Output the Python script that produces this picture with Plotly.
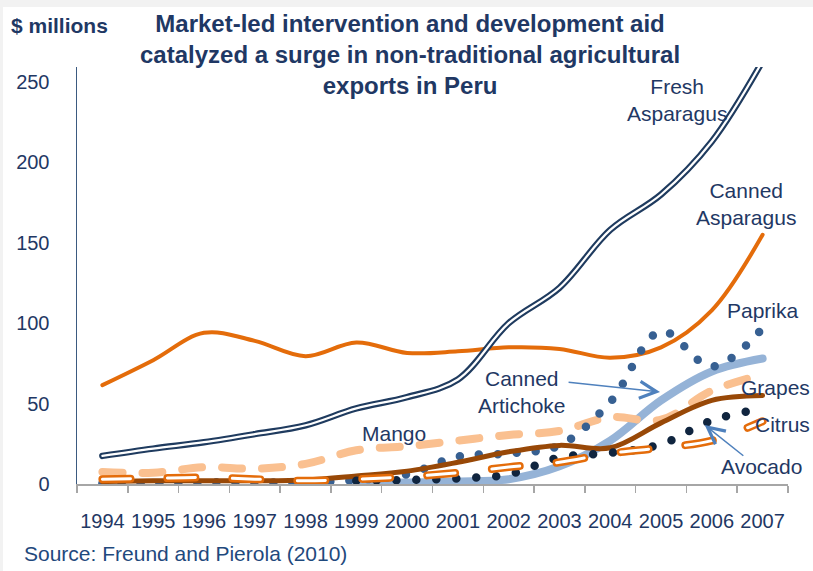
import plotly.graph_objects as go

years = [1994, 1995, 1996, 1997, 1998, 1999, 2000, 2001, 2002, 2003, 2004, 2005, 2006, 2007]
year_labels = [str(y) for y in years]
boundaries = [y - 0.5 for y in years] + [years[-1] + 0.5]
y_ticks = [0, 50, 100, 150, 200, 250]

fresh_asparagus = [17.5, 22, 26, 31, 36.5, 47, 54, 65, 100, 122, 158, 180, 213, 263]
canned_asparagus = [61.5, 77, 94, 89, 79.5, 88, 81.5, 82.5, 85, 84, 78.5, 85, 108, 155]
paprika = [0.5, 0.5, 1, 1, 1, 2.5, 6, 17, 19, 24, 51, 95, 73, 97]
canned_artichoke = [None, None, None, None, None, 0.5, 1, 1.5, 3, 11, 27, 52, 70, 78]
mango = [7.5, 7, 10.5, 9.5, 12.5, 21, 23.5, 27, 30.5, 33, 41.5, 40, 58, 68]
grapes = [1.5, 2, 2, 2, 2.5, 5, 8, 13.5, 20, 24, 22.5, 38, 52, 55]
avocado = [None, None, None, None, None, 2, 2.5, 3.5, 6, 16.5, 19.3, 24.7, 39.5, 47]
citrus = [3, 3.5, 4, 3, 2, 3, 4.5, 7, 10.5, 13.5, 19, 22.5, 27, 39]

NAVY = "#1F3B5F"
TXT = "#1F3864"
ORANGE = "#E46C0A"

fig = go.Figure()

def add(vals, color, width, dash="solid"):
    fig.add_trace(go.Scatter(
        x=years, y=vals, mode="lines",
        line=dict(color=color, width=width, dash=dash, shape="spline", smoothing=1.0),
        hoverinfo="skip", connectgaps=False))

add(canned_artichoke, "#95B3D7", 8)
add(mango, "#FAC090", 8, "20px,20px")
add(canned_asparagus, ORANGE, 4)
add(fresh_asparagus, NAVY, 6.5)
add(fresh_asparagus, "white", 2.2)
add(paprika, "#376092", 8.5, "0px,19px")
add(grapes, "#984807", 5)
add(avocado, "#10253F", 8.5, "0px,20px")
add(citrus, ORANGE, 8, "28px,37px")
add(citrus, "white", 3, "28px,37px")

lab_font = dict(family="Liberation Sans, Arial", size=21, color=TXT)
labels = [
    ("Fresh<br>Asparagus", 2005.31, 238.8),
    ("Canned<br>Asparagus", 2006.68, 174.4),
    ("Paprika", 2007.01, 108.2),
    ("Grapes", 2007.26, 59.7),
    ("Citrus", 2007.39, 36.7),
    ("Avocado", 2006.97, 10.8),
    ("Canned<br>Artichoke", 2002.26, 57.5),
    ("Mango", 1999.74, 31.7),
]
for t, x, y in labels:
    fig.add_annotation(x=x, y=y, xref="x", yref="y", text=t, showarrow=False,
                       font=lab_font, align="center", xanchor="center", yanchor="middle")

ARROW = "#4F81BD"
arrows = [
    (2004.98, 57.2, 2003.15, 63.4),
    (2005.86, 36.7, 2006.65, 16.8),
]
for hx, hy, tx, ty in arrows:
    fig.add_annotation(x=hx, y=hy, ax=tx, ay=ty, xref="x", yref="y", axref="x", ayref="y",
                       text="", showarrow=True, arrowhead=5, arrowsize=2.2, arrowwidth=1.5,
                       arrowcolor=ARROW, standoff=0, startstandoff=0)

fig.add_annotation(x=0.4684, y=1.0288, xref="paper", yref="paper",
                   text="<b>Market-led intervention and development aid<br>catalyzed a surge in non-traditional agricultural<br>exports in Peru</b>",
                   showarrow=False, align="center", xanchor="center", yanchor="middle",
                   font=dict(family="Liberation Sans, Arial", size=24, color=TXT))
fig.add_annotation(x=-0.0956, y=1.1007, xref="paper", yref="paper", text="<b>$ millions</b>",
                   showarrow=False, xanchor="left", yanchor="middle",
                   font=dict(family="Liberation Sans, Arial", size=21, color=TXT))
fig.add_annotation(x=-0.0774, y=-0.1655, xref="paper", yref="paper",
                   text="Source: Freund and Pierola (2010)",
                   showarrow=False, xanchor="left", yanchor="middle",
                   font=dict(family="Liberation Sans, Arial", size=21, color="#1F497D"))

fig.add_shape(type="rect", xref="paper", yref="paper", x0=-0.104, x1=1.05, y0=-0.3, y1=1.144,
              fillcolor="white", line=dict(width=0), layer="below")

fig.update_layout(
    width=813, height=571,
    margin=dict(l=77, r=25, t=67, b=87),
    paper_bgcolor="#F2F2F2", plot_bgcolor="white",
    showlegend=False,
    font=dict(family="Liberation Sans, Arial", color=TXT),
    xaxis=dict(range=[1993.5, 2007.5], tickvals=years, ticktext=year_labels, ticks="",
               showline=True, linecolor="#A6A6A6", linewidth=1.5, showgrid=False, zeroline=False,
               tickfont=dict(size=20, color=TXT), ticklabelstandoff=18,
               minor=dict(tickvals=boundaries, ticks="outside", ticklen=7, tickcolor="#A6A6A6",
                          tickwidth=1.5, showgrid=False)),
    yaxis=dict(range=[0, 259.3], tickvals=y_ticks, ticks="", showline=True, linecolor="#3B5A80",
               linewidth=1.5, showgrid=False, zeroline=False,
               tickfont=dict(size=20, color=TXT), ticklabelstandoff=22),
)

post = """
document.documentElement.style.margin = '0';
document.documentElement.style.padding = '0';
document.body.style.margin = '0';
document.body.style.padding = '0';
document.body.style.overflow = 'hidden';
document.querySelectorAll('.scatterlayer path.js-line').forEach(function(p){
  p.style.strokeLinecap = 'round';
  p.style.strokeLinejoin = 'round';
});
"""
fig.write_html("out.html", post_script=post, config={"displayModeBar": False, "staticPlot": True})
